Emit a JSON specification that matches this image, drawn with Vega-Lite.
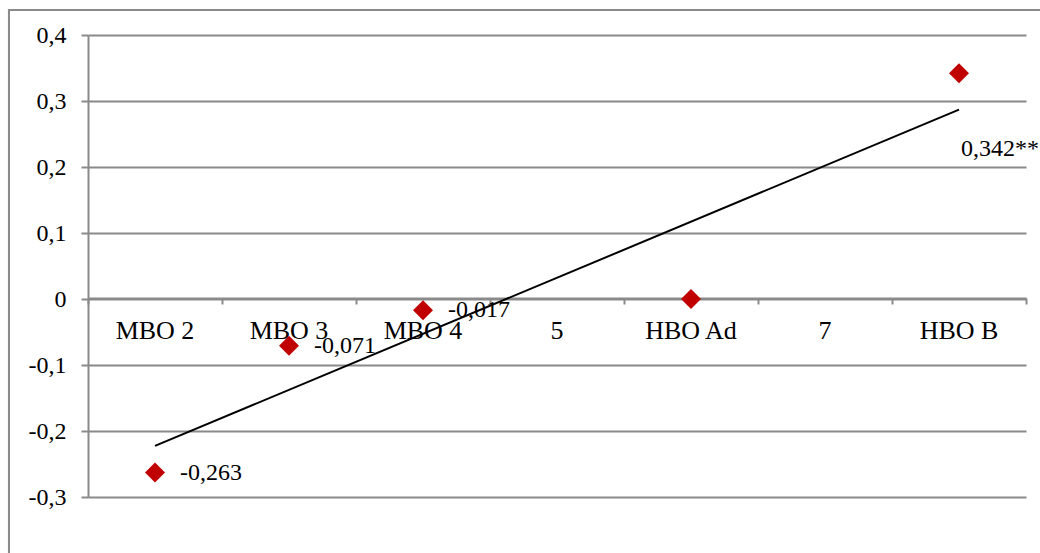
{
  "$schema": "https://vega.github.io/schema/vega-lite/v6.json",
  "width": 938,
  "height": 462,
  "autosize": {"type": "none"},
  "padding": {"left": 88, "top": 35, "right": 14, "bottom": 56},
  "background": "white",
  "config": {
    "view": {"stroke": null},
    "font": "Liberation Serif",
    "locale": {"number": {"decimal": ",", "thousands": ".", "grouping": [3], "currency": ["", " €"], "minus": "-"}}
  },
  "data": {
    "values": [
      {"category": "MBO 2", "pos": 1, "value": -0.263, "label": "-0,263"},
      {"category": "MBO 3", "pos": 2, "value": -0.071, "label": "-0,071"},
      {"category": "MBO 4", "pos": 3, "value": -0.017, "label": "-0,017"},
      {"category": "5", "pos": 4, "value": null, "label": ""},
      {"category": "HBO Ad", "pos": 5, "value": 0, "label": ""},
      {"category": "7", "pos": 6, "value": null, "label": ""},
      {"category": "HBO B", "pos": 7, "value": 0.342, "label": "0,342**"}
    ]
  },
  "layer": [
    {
      "mark": {"type": "rect", "fill": null, "stroke": "#8a8a8a", "strokeWidth": 2, "clip": false},
      "encoding": {
        "x": {"datum": -0.0896, "type": "quantitative", "scale": {"domain": [0.5, 7.5], "nice": false, "zero": false}},
        "x2": {"datum": 9},
        "y": {"datum": 0.4379, "type": "quantitative", "scale": {"domain": [-0.3, 0.4], "nice": false, "zero": false}},
        "y2": {"datum": -0.5}
      }
    },
    {
      "mark": {"type": "point", "opacity": 0},
      "encoding": {
        "x": {
          "field": "pos", "type": "quantitative",
          "scale": {"domain": [0.5, 7.5], "nice": false, "zero": false},
          "axis": {
            "values": [0.5, 1.5, 2.5, 3.5, 4.5, 5.5, 6.5, 7.5],
            "labels": false, "grid": false, "title": null,
            "offset": -199, "tickSize": 6, "tickColor": "#8a8a8a", "tickWidth": 2,
            "domainColor": "#8a8a8a", "domainWidth": 2
          }
        },
        "y": {
          "field": "value", "type": "quantitative",
          "scale": {"domain": [-0.3, 0.4], "nice": false, "zero": false},
          "axis": {
            "values": [-0.3, -0.2, -0.1, 0, 0.1, 0.2, 0.3, 0.4],
            "format": ".1f",
            "labelExpr": "datum.value == 0 ? '0' : datum.label",
            "title": null, "grid": true, "gridColor": "#8a8a8a", "gridWidth": 2,
            "domainColor": "#8a8a8a", "domainWidth": 2,
            "tickColor": "#8a8a8a", "tickWidth": 2, "tickSize": 7,
            "labelFontSize": 24, "labelColor": "black", "labelPadding": 15,
            "labelFont": "Liberation Serif"
          }
        }
      }
    },
    {
      "mark": {"type": "text", "fontSize": 26, "baseline": "middle", "align": "center", "dy": 32, "color": "black"},
      "encoding": {
        "x": {"field": "pos", "type": "quantitative"},
        "y": {"datum": 0, "type": "quantitative"},
        "text": {"field": "category"}
      }
    },
    {
      "transform": [{"filter": "isValid(datum.value)"}],
      "mark": {"type": "point", "shape": "diamond", "filled": true, "size": 400, "color": "#c00000", "opacity": 1},
      "encoding": {
        "x": {"field": "pos", "type": "quantitative"},
        "y": {"field": "value", "type": "quantitative"}
      }
    },
    {
      "transform": [{"filter": "datum.label != '' && datum.category != 'HBO B'"}],
      "mark": {"type": "text", "fontSize": 24, "align": "left", "baseline": "middle", "dx": 25, "color": "black"},
      "encoding": {
        "x": {"field": "pos", "type": "quantitative"},
        "y": {"field": "value", "type": "quantitative"},
        "text": {"field": "label"}
      }
    },
    {
      "transform": [{"filter": "datum.category == 'HBO B'"}],
      "mark": {"type": "text", "fontSize": 24, "align": "left", "baseline": "middle", "dx": 2, "dy": 76, "color": "black"},
      "encoding": {
        "x": {"field": "pos", "type": "quantitative"},
        "y": {"field": "value", "type": "quantitative"},
        "text": {"field": "label"}
      }
    },
    {
      "transform": [
        {"filter": "isValid(datum.value)"},
        {"regression": "value", "on": "pos", "method": "linear"}
      ],
      "mark": {"type": "line", "color": "black", "strokeWidth": 2},
      "encoding": {
        "x": {"field": "pos", "type": "quantitative"},
        "y": {"field": "value", "type": "quantitative"}
      }
    }
  ]
}
